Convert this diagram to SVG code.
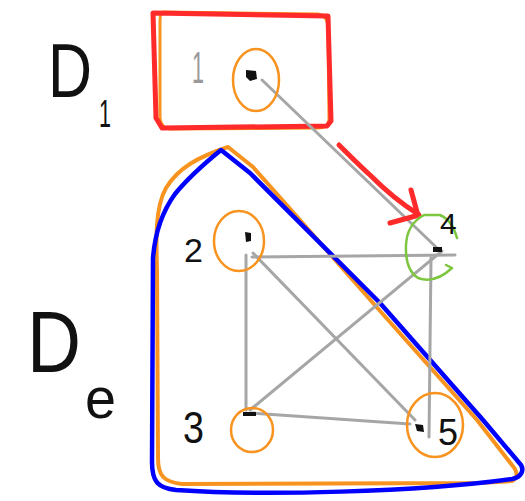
<svg xmlns="http://www.w3.org/2000/svg" width="525" height="501" viewBox="0 0 525 501">
<style>
.edge{fill:none;stroke:#a6a6a6;stroke-width:3;stroke-linecap:round}
.ring{fill:none;stroke:#f7931e;stroke-width:2.5}
.hand{font-family:"Liberation Sans",Arial,sans-serif;fill:#111}
.dot{fill:#111}
</style>
<rect width="525" height="501" fill="#fff"/>
<!-- region outlines -->
<g id="region-De">
<path d="M 228 147 C 198 157 178 168 166 188 C 155 207 156 240 157 270 L 158 458 C 158 476 164 482 182 484 L 480 483 L 512 481 C 518 478 518 472 512 465 L 477 420 L 373 303 L 300 220 L 253 167 Z" fill="none" stroke="#f7931e" stroke-width="4" stroke-linejoin="round"/>
<path d="M 221 150 C 205 163 188 178 175 194 C 162 212 155 232 153 258 L 152 462 C 152 482 158 488 176 490 C 260 496 420 492 512 479 C 522 477 524 470 521 465 L 483 420 L 380 303 L 250 173 Z" fill="none" stroke="#0000ff" stroke-width="4.5" stroke-linejoin="round"/>
</g>
<g id="region-D1">
<path d="M 163 12 L 318 14 Q 328 16 328 28 L 329 120 Q 328 128 318 128 L 170 129 Q 161 128 160 118 L 160 22 Q 160 12 163 12 Z" fill="none" stroke="#f7931e" stroke-width="3"/>
<path d="M 153 13 L 328 16 L 331 121 L 327 126 L 162 128 L 156 118 Z" fill="none" stroke="#ff2a2a" stroke-width="5" stroke-linejoin="round"/>
</g>
<!-- connectors -->
<g id="connectors">
<line class="edge" x1="262" y1="80" x2="437" y2="248"/>
<line class="edge" x1="252" y1="257" x2="455" y2="255"/>
<line class="edge" x1="246" y1="255" x2="246" y2="410"/>
<line class="edge" x1="252" y1="413" x2="410" y2="424"/>
<line class="edge" x1="253" y1="253" x2="415" y2="420"/>
<line class="edge" x1="250" y1="410" x2="442" y2="251"/>
<line class="edge" x1="431" y1="258" x2="429" y2="437"/>
<path d="M 339 145 C 350 156 360 166 370 175 C 385 190 400 203 418 214" fill="none" stroke="#ff2a2a" stroke-width="5" stroke-linecap="round"/>
<path d="M 411 190 L 417 212 M 390 223 L 419 215" fill="none" stroke="#ff2a2a" stroke-width="5" stroke-linecap="round"/>
</g>
<!-- nodes -->
<g id="node-1">
<ellipse class="ring" cx="256" cy="80" rx="23" ry="31"/>
<path class="dot" d="M 246 70 L 256 71 L 257 79 L 250 81 L 246 77 Z"/>
<text x="192" y="83" font-family="Liberation Sans,Arial,sans-serif" font-size="44" fill="#999" textLength="12" lengthAdjust="spacingAndGlyphs">1</text>
</g>
<g id="node-2">
<ellipse class="ring" cx="239" cy="241" rx="25" ry="30"/>
<path class="dot" d="M 245 232 L 251 233 L 251 241 L 246 242 Z"/>
<text class="hand" x="184" y="262" font-size="34">2</text>
</g>
<g id="node-3">
<ellipse class="ring" cx="252" cy="430" rx="21" ry="22"/>
<rect class="dot" x="243" y="412" width="13" height="4"/>
<text class="hand" x="183" y="443" font-size="44" textLength="21" lengthAdjust="spacingAndGlyphs">3</text>
</g>
<g id="node-4">
<path d="M 457 238 Q 452 220 440 215 L 424 215 Q 407 224 406 245 Q 405 270 418 278 Q 435 284 452 268 M 452 268 L 446 265" fill="none" stroke="#7dc63f" stroke-width="2.5" stroke-linecap="round" stroke-linejoin="round"/>
<rect class="dot" x="433" y="247" width="9" height="5"/>
<text class="hand" x="440" y="234" font-size="30">4</text>
</g>
<g id="node-5">
<ellipse class="ring" cx="435" cy="425" rx="28" ry="32"/>
<path class="dot" d="M 415 424 L 423 425 L 424 432 L 417 431 Z"/>
<text class="hand" x="438" y="445" font-size="36">5</text>
</g>
<!-- labels -->
<g id="label-D1">
<text class="hand" x="48" y="97" font-size="76" textLength="44" lengthAdjust="spacingAndGlyphs">D</text>
<text class="hand" x="99" y="127" font-size="38" textLength="12" lengthAdjust="spacingAndGlyphs">1</text>
</g>
<g id="label-De">
<text class="hand" x="27" y="372" font-size="88" textLength="54" lengthAdjust="spacingAndGlyphs">D</text>
<text class="hand" x="85" y="418" font-size="58" textLength="31" lengthAdjust="spacingAndGlyphs">e</text>
</g>
</svg>
